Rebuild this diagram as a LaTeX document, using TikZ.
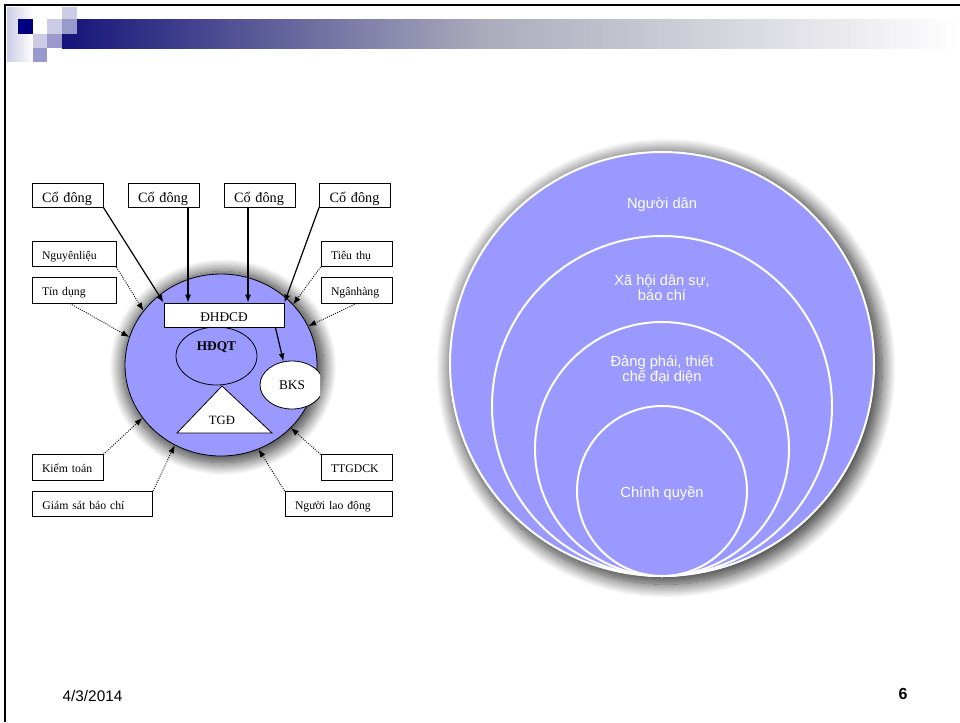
\documentclass[tikz,border=0pt]{standalone}
\usepackage{fontspec}
\setmainfont{Liberation Serif}
\newfontfamily\arialfont{Liberation Sans}
\usetikzlibrary{arrows.meta,shapes.geometric,shadows.blur}
\definecolor{tim}{HTML}{9999FF}
\definecolor{xanhdam}{HTML}{000080}
\definecolor{timnhat}{HTML}{CCCCE6}
\definecolor{timvua}{HTML}{9999CC}
\definecolor{thanhdau}{HTML}{14147A}
\definecolor{thanhgiua}{HTML}{AAAABB}
\tikzset{
    hop/.style={draw, fill=white, inner xsep=7.5pt, inner ysep=0pt, align=left, text width=#1, text height=7.5pt, text depth=0pt, minimum height=19pt, font=\fontsize{8.8}{10}\selectfont},
    codong/.style={hop=38.25pt, minimum height=18pt, text height=11pt, font=\fontsize{10.7}{12}\selectfont},
    vao/.style={->, densely dotted, line width=0.7pt},
    vong/.style={circle, draw=white, line width=1.5pt, fill=tim, inner sep=0pt},
    chutrang/.style={text=white, align=center, font=\arialfont\fontsize{11}{11.5}\selectfont}
}
\begin{document}
    \begin{tikzpicture}[x=0.75pt, y=-0.75pt, line width=0.6pt, >={Latex[length=6pt,width=4.5pt]}]
        \useasboundingbox (0,0) rectangle (960,722);
        % dau trang
        \shade[left color=timnhat, right color=white] (7,7) rectangle (33,61);
        \shade[left color=thanhdau, right color=thanhgiua] (62,19) rectangle (480,48);
        \shade[left color=thanhgiua, right color=white] (480,19) rectangle (960,48);
        \fill[xanhdam] (18,19) rectangle (33,34);
        \fill[timnhat] (47,19) rectangle (62,34);
        \fill[timnhat] (62,7) rectangle (77,19);
        \fill[timvua] (62,19) rectangle (77,34);
        \fill[timnhat] (33,34) rectangle (47,48);
        \fill[timvua] (47,34) rectangle (62,48);
        \fill[timvua] (33,48) rectangle (47,62);
        \draw[line width=1.9pt] (5,722) -- (5,5) -- (960,5);

        % doanh nghiep
        \node[ellipse, draw, fill=tim, minimum width=144pt, minimum height=136.5pt, blur shadow={shadow xshift=1.5pt, shadow yshift=-1.5pt, shadow scale=1.05, shadow blur radius=9pt, shadow blur steps=20, shadow opacity=80}] (dn) at (221,365) {};
        \node[ellipse, draw, fill=tim, inner sep=0pt, minimum width=60.75pt, minimum height=43.5pt] (hdqt) at (216.5,356) {};
        \node[font=\bfseries\fontsize{10}{12}\selectfont] (hdqtchu) at (216.5,347.5) {HĐQT};
        \draw[fill=white] (222,386) -- (177,433) -- (272,433) -- cycle;
        \node[font=\fontsize{9.5}{10}\selectfont] (tgd) at (222,420) {TGĐ};
        \begin{scope}
            \clip (0,0) rectangle (320,722);
            \node[ellipse, draw, fill=white, inner sep=0pt, minimum width=48pt, minimum height=36pt, font=\fontsize{10}{12}\selectfont] (bks) at (292,385) {BKS};
        \end{scope}
        \node[draw, fill=white, minimum width=90pt, minimum height=18pt, inner sep=0pt, text height=10pt, text depth=0pt, font=\fontsize{10}{12}\selectfont] (dhcd) at (224,315) {ĐHĐCĐ};
        \draw[->, line width=0.9pt] ([xshift=-6.75pt]dhcd.south east) -- (bks.110);

        % co dong
        \node[codong] (cd1) at (67.5,195) {Cổ đông};
        \node[codong] (cd2) at (163.5,195) {Cổ đông};
        \node[codong] (cd3) at (259.5,195) {Cổ đông};
        \node[codong] (cd4) at (355,195) {Cổ đông};
        \draw[->, line width=0.9pt] (cd1.south east) -- (dhcd.north west);
        \draw[->, line width=0.9pt] ([xshift=18.4pt]cd2.south) -- ([xshift=18.4pt]cd2.south |- dhcd.north);
        \draw[->, line width=0.9pt] ([xshift=-8.6pt]cd3.south) -- ([xshift=-8.6pt]cd3.south |- dhcd.north);
        \draw[->, line width=0.9pt] (cd4.south west) -- (dhcd.north east);

        % cac ben lien quan
        \node[hop=48pt] (nl) at (74,254) {Nguyênliệu};
        \node[hop=48pt] (td) at (74,290.5) {Tín dụng};
        \node[hop=38.25pt] (tt) at (356.5,254) {Tiêu thụ};
        \node[hop=38.25pt] (nh) at (356.5,290.5) {Ngânhàng};
        \node[hop=38.25pt] (kt) at (67.5,467.5) {Kiểm toán};
        \node[hop=75.25pt] (gs) at (92.5,504) {Giám sát báo chí};
        \node[hop=38.25pt] (tg) at (356.5,467.5) {TTGDCK};
        \node[hop=65.25pt] (nld) at (338.5,504) {Người lao động};
        \draw[vao] (nl.south east) -- (dn.145);
        \draw[vao] ([xshift=-3pt]td.south) -- (dn.163);
        \draw[vao] (tt.south west) -- (dn.40);
        \draw[vao] (nh.south) -- (dn.24);
        \draw[vao] (kt.north east) -- (dn.214);
        \draw[vao] (gs.north east) -- (dn.240);
        \draw[vao] (tg.north west) -- (dn.318);
        \draw[vao] (nld.north west) -- (dn.294);

        % vong tron quyen luc
        \node[vong, minimum size=318pt, blur shadow={shadow xshift=3pt, shadow yshift=-3pt, shadow scale=1.02, shadow blur radius=10pt, shadow blur steps=20, shadow opacity=80}] (v1) at (662,364) {};
        \node[vong, minimum size=255pt] (v2) at (662,406) {};
        \node[vong, minimum size=190.5pt] (v3) at (662,449) {};
        \node[vong, minimum size=127.5pt] (v4) at (662,491) {};
        \node[chutrang] (nd) at (662,205) {Người dân};
        \node[chutrang] (xh) at (662,287.5) {Xã hội dân sự,\\báo chí};
        \node[chutrang] (dp) at (662,369.5) {Đảng phái, thiết\\chế đại diện};
        \node[chutrang] (cq) at (662,493) {Chính quyền};

        % chan trang
        \node[font=\arialfont\fontsize{11.5}{12}\selectfont] (ngay) at (92.5,696) {4/3/2014};
        \node[font=\arialfont\bfseries\fontsize{12}{12}\selectfont] (trang) at (903,694) {6};
    \end{tikzpicture}
\end{document}
